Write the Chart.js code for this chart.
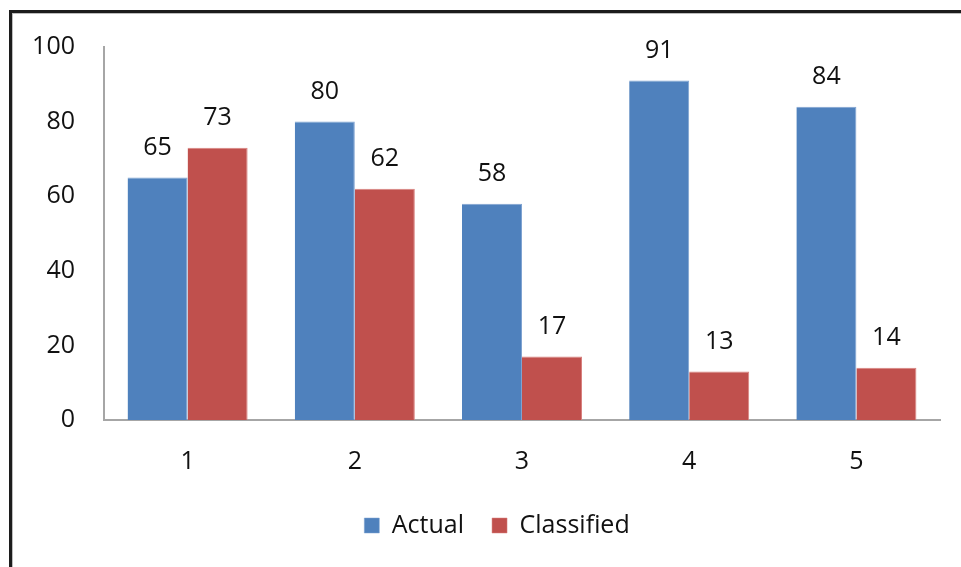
<!DOCTYPE html>
<html>
<head>
<meta charset="utf-8">
<script src="https://cdn.jsdelivr.net/npm/chart.js@4/dist/chart.umd.min.js"></script>
<style>
  html, body { margin: 0; padding: 0; background: #fff; overflow: hidden; }
  #wrap { position: relative; width: 961px; height: 567px; }
  #frame {
    position: absolute; left: 9px; top: 10px; width: 2000px; height: 2000px;
    border: 3px solid #1c1c1c; box-shadow: inset 1px 1px 0 #bdbdbd;
  }
  #c { position: absolute; left: 0; top: 0; }
</style>
</head>
<body>
<div id="wrap">
  <div id="frame"></div>
  <canvas id="c" width="961" height="567"></canvas>
</div>
<script>
const categories = ['1', '2', '3', '4', '5'];
const actualValues = [65, 80, 58, 91, 84];
const classifiedValues = [73, 62, 17, 13, 14];
const yTicks = [0, 20, 40, 60, 80, 100];

const FONT = "'Open Sans', 'DejaVu Sans', sans-serif";
const TEXT = '#111111';
const AXIS = '#a6a6a6';

// Writes each bar's value above its top
const valueLabels = {
  id: 'valueLabels',
  afterDatasetsDraw(chart) {
    const ctx = chart.ctx;
    ctx.save();
    ctx.font = `25px ${FONT}`;
    ctx.fillStyle = TEXT;
    ctx.textAlign = 'center';
    ctx.textBaseline = 'alphabetic';
    chart.data.datasets.forEach((ds, i) => {
      chart.getDatasetMeta(i).data.forEach((bar, j) => {
        ctx.fillText(String(ds.data[j]), bar.x, bar.y - 23);
      });
    });
    ctx.restore();
  }
};

// Nudges the legend a little to the right of the canvas centre
const legendShift = {
  id: 'legendShift',
  afterLayout(chart) {
    const lg = chart.legend;
    if (lg) { lg.left += 27; lg.right += 27; }
  }
};

new Chart(document.getElementById('c'), {
  type: 'bar',
  data: {
    labels: categories,
    datasets: [
      { label: 'Actual', data: actualValues, backgroundColor: '#4f81bd',
        borderColor: '#7fa3d1', borderWidth: { right: 1, top: 1 } },
      { label: 'Classified', data: classifiedValues, backgroundColor: '#c0504d',
        borderColor: '#d9827f', borderWidth: { right: 1, top: 1 } }
    ]
  },
  plugins: [valueLabels, legendShift],
  options: {
    responsive: false,
    animation: false,
    devicePixelRatio: 1,
    layout: { padding: { top: 47, right: 21, bottom: 19, left: 0 } },
    datasets: { bar: { categoryPercentage: 0.718, barPercentage: 1.0 } },
    scales: {
      x: {
        grid: { display: false, drawTicks: false },
        border: { display: true, color: AXIS, width: 2 },
        ticks: { padding: 27, color: TEXT, font: { family: FONT, size: 25 } },
        afterFit(scale) { scale.height = 65; }
      },
      y: {
        min: 0, max: 100,
        afterBuildTicks(scale) { scale.ticks = yTicks.map(v => ({ value: v })); },
        grid: { display: false, drawTicks: false },
        border: { display: true, color: AXIS, width: 2 },
        ticks: { padding: 29, color: TEXT, font: { family: FONT, size: 25 } },
        afterFit(scale) { scale.width = 104; }
      }
    },
    plugins: {
      legend: {
        position: 'bottom',
        labels: {
          boxWidth: 15, boxHeight: 15, padding: 28,
          color: TEXT, font: { family: FONT, size: 25 }
        }
      },
      tooltip: { enabled: false }
    }
  }
});
</script>
</body>
</html>
